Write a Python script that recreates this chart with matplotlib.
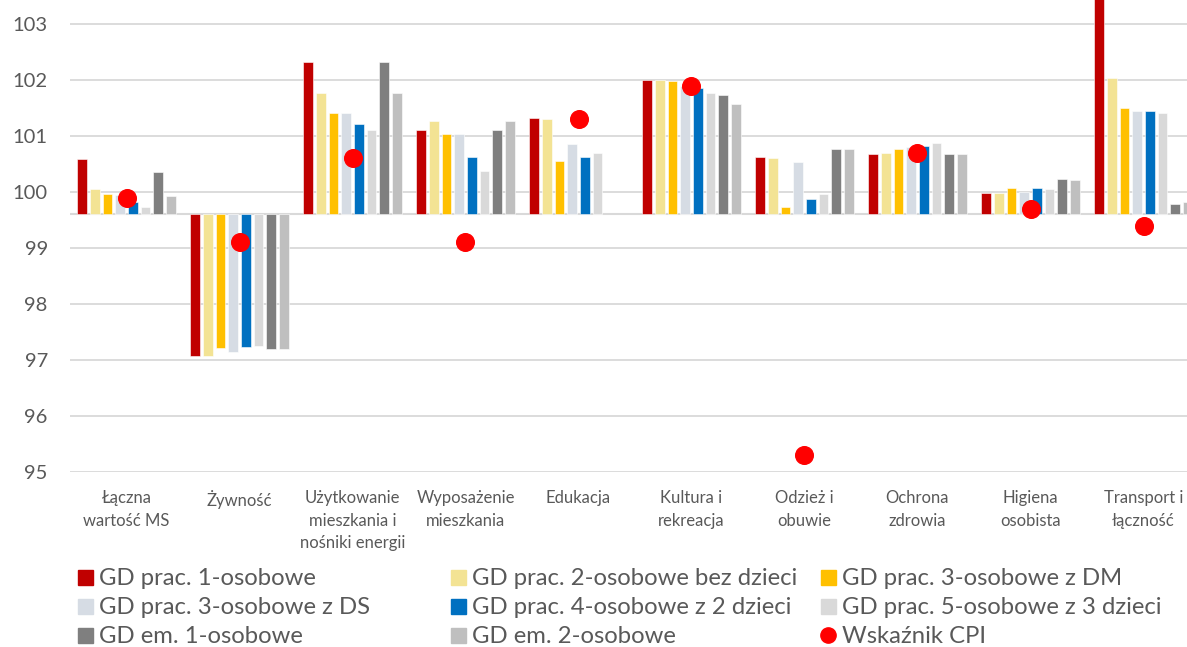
import numpy as np
import matplotlib
matplotlib.use("Agg")
import matplotlib.pyplot as plt
from matplotlib.lines import Line2D

plt.rcParams['font.family'] = ['Lato', 'DejaVu Sans']

categories = ["Łączna\nwartość MS", "Żywność", "Użytkowanie\nmieszkania i\nnośniki energii",
              "Wyposażenie\nmieszkania", "Edukacja", "Kultura i\nrekreacja", "Odzież i\nobuwie",
              "Ochrona\nzdrowia", "Higiena\nosobista", "Transport i\nłączność"]

series_names = ["GD prac. 1-osobowe", "GD prac. 2-osobowe bez dzieci", "GD prac. 3-osobowe z DM",
                "GD prac. 3-osobowe z DS", "GD prac. 4-osobowe z 2 dzieci", "GD prac. 5-osobowe z 3 dzieci",
                "GD em. 1-osobowe", "GD em. 2-osobowe"]
colors = ["#C00000", "#F3E394", "#FFC000", "#D6DCE4", "#0070C0", "#D9D9D9", "#7F7F7F", "#BFBFBF"]

prac1 = [100.59, 97.08, 102.33, 101.10, 101.33, 102.00, 100.62, 100.67, 99.98, 104.00]
prac2 = [100.05, 97.08, 101.77, 101.26, 101.31, 102.00, 100.61, 100.69, 99.98, 102.03]
prac3dm = [99.96, 97.21, 101.41, 101.03, 100.55, 101.98, 99.73, 100.77, 100.08, 101.50]
prac3ds = [99.94, 97.15, 101.41, 101.03, 100.85, 101.90, 100.53, 100.80, 100.00, 101.45]
prac4 = [99.82, 97.23, 101.22, 100.63, 100.63, 101.85, 99.88, 100.83, 100.07, 101.45]
prac5 = [99.74, 97.25, 101.10, 100.38, 100.69, 101.76, 99.97, 100.88, 100.06, 101.41]
em1 = [100.36, 97.19, 102.33, 101.10, np.nan, 101.73, 100.76, 100.68, 100.24, 99.79]
em2 = [99.92, 97.19, 101.77, 101.26, np.nan, 101.57, 100.77, 100.68, 100.22, 99.83]
cpi = [99.9, 99.1, 100.6, 99.1, 101.3, 101.9, 95.3, 100.7, 99.7, 99.4]

series = [prac1, prac2, prac3dm, prac3ds, prac4, prac5, em1, em2]
base = 99.6

W, H = 1187, 647
fig = plt.figure(figsize=(W / 100, H / 100), dpi=100)
# plot area runs a bit past the right edge, like the source
ax = fig.add_axes([70 / W, (H - 472) / H, 1130 / W, 504 / H])

x = np.arange(len(categories))
pitch = 0.1124
for i, (vals, c) in enumerate(zip(series, colors)):
    v = np.array(vals)
    ax.bar(x + (i - 3.5) * pitch, v - base, bottom=base, width=0.086,
           color=c, edgecolor='white', linewidth=0.4, zorder=3)

ax.plot(x, cpi, 'o', color='#FF0000', markersize=12.7, zorder=4)

ax.set_xlim(-0.5, len(categories) - 0.5)
ax.set_ylim(95, 104)
ax.set_yticks(range(95, 104))
ax.grid(axis='y', color='#D9D9D9', linewidth=1.3, zorder=0)
ax.axhline(base, color='#D9D9D9', linewidth=1.5, zorder=2)
for s in ax.spines.values():
    s.set_visible(False)

ax.set_xticks(x)
ax.set_xticklabels(categories, fontsize=12, color='#595959', linespacing=1.5, va='top')
ax.tick_params(axis='x', length=0, pad=13)
ax.tick_params(axis='y', length=0, pad=16, labelsize=14.5, labelcolor='#595959')

# legend: three fixed-width columns, row by row
handles = [Line2D([], [], marker='s', linestyle='none', markersize=10.8,
                  markerfacecolor=c, markeredgecolor=c) for c in colors]
handles.append(Line2D([], [], marker='o', linestyle='none', markersize=11,
                      markerfacecolor='#FF0000', markeredgecolor='#FF0000'))
labels = series_names + ["Wskaźnik CPI"]
col_x = [77, 450, 820]
for col in range(3):
    idx = [col, col + 3, col + 6]
    leg = fig.legend([handles[k] for k in idx], [labels[k] for k in idx],
                     loc='center left', bbox_to_anchor=(col_x[col] / W, 1 - 607.5 / H),
                     frameon=False, fontsize=17.2, handlelength=0.66, handletextpad=0.28,
                     labelspacing=0.33, borderpad=0, borderaxespad=0)
    for t in leg.get_texts():
        t.set_color('#595959')

fig.savefig("out.png", dpi=100)
